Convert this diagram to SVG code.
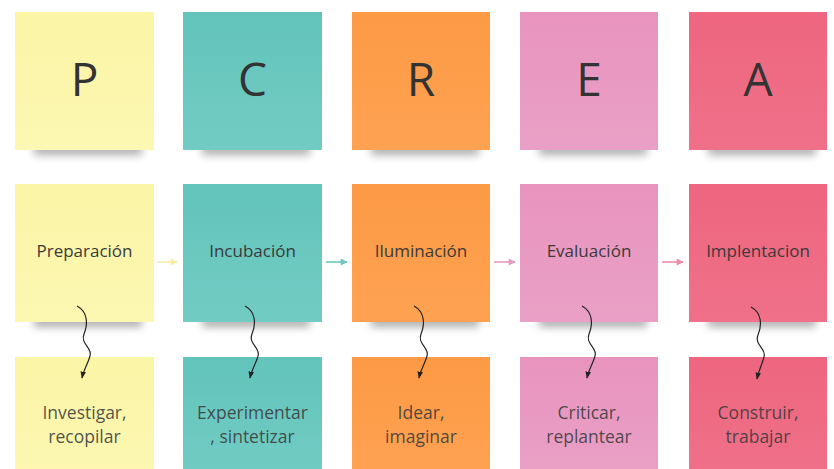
<svg xmlns="http://www.w3.org/2000/svg" width="834" height="469" viewBox="0 0 834 469">
<style>
.letter{font-family:"Open Sans","Liberation Sans",sans-serif;font-size:46px;fill:#333;text-anchor:middle}
.lbl{font-family:"Open Sans","Liberation Sans",sans-serif;font-size:17px;fill:#3a3a3a;text-anchor:middle}
.sub{font-family:"Open Sans","Liberation Sans",sans-serif;font-size:17.5px;fill:#3a3a3a;fill-opacity:.88;text-anchor:middle}
.shadow{fill:#000;opacity:.32;filter:url(#blur)}
.squig{fill:none;stroke:#222;stroke-width:1.2;marker-end:url(#ah)}
.ha{stroke-width:1.6;fill:none}
</style>
<defs>
<filter id="blur" x="-20%" y="-100%" width="140%" height="300%"><feGaussianBlur stdDeviation="4"/></filter>
<linearGradient id="gy" x1="0" y1="0" x2="0" y2="1"><stop offset="0" stop-color="#fbf5a6"/><stop offset="1" stop-color="#fcf7b2"/></linearGradient>
<linearGradient id="gt" x1="0" y1="0" x2="0" y2="1"><stop offset="0" stop-color="#62c4bb"/><stop offset="1" stop-color="#72ccc4"/></linearGradient>
<linearGradient id="go" x1="0" y1="0" x2="0" y2="1"><stop offset="0" stop-color="#fd9a45"/><stop offset="1" stop-color="#fea252"/></linearGradient>
<linearGradient id="gp" x1="0" y1="0" x2="0" y2="1"><stop offset="0" stop-color="#e894be"/><stop offset="1" stop-color="#eaa0c6"/></linearGradient>
<linearGradient id="gr" x1="0" y1="0" x2="0" y2="1"><stop offset="0" stop-color="#ee667f"/><stop offset="1" stop-color="#f07089"/></linearGradient>
<marker id="ah" viewBox="0 0 10 10" refX="9" refY="5" markerWidth="7" markerHeight="9" orient="auto" markerUnits="userSpaceOnUse"><path d="M0,1 L10,5 L0,9 Z" fill="#222"/></marker>
<marker id="ahy" viewBox="0 0 10 10" refX="9" refY="5" markerWidth="9" markerHeight="7" orient="auto" markerUnits="userSpaceOnUse"><path d="M0,0 L10,5 L0,10 Z" fill="#f5eea0"/></marker>
<marker id="aht" viewBox="0 0 10 10" refX="9" refY="5" markerWidth="9" markerHeight="7" orient="auto" markerUnits="userSpaceOnUse"><path d="M0,0 L10,5 L0,10 Z" fill="#6cc8c0"/></marker>
<marker id="ahp" viewBox="0 0 10 10" refX="9" refY="5" markerWidth="9" markerHeight="7" orient="auto" markerUnits="userSpaceOnUse"><path d="M0,0 L10,5 L0,10 Z" fill="#e99ac2"/></marker>
<marker id="ahr" viewBox="0 0 10 10" refX="9" refY="5" markerWidth="9" markerHeight="7" orient="auto" markerUnits="userSpaceOnUse"><path d="M0,0 L10,5 L0,10 Z" fill="#ee8ba6"/></marker>
</defs>
<rect width="834" height="469" fill="#fff"/>
<g id="shadows">
<rect class="shadow" x="34" y="144" width="108" height="11"/>
<rect class="shadow" x="202" y="144" width="108" height="11"/>
<rect class="shadow" x="371" y="144" width="108" height="11"/>
<rect class="shadow" x="539" y="144" width="108" height="11"/>
<rect class="shadow" x="708" y="144" width="108" height="11"/>
<rect class="shadow" x="34" y="316" width="108" height="11"/>
<rect class="shadow" x="202" y="316" width="108" height="11"/>
<rect class="shadow" x="371" y="316" width="108" height="11"/>
<rect class="shadow" x="539" y="316" width="108" height="11"/>
<rect class="shadow" x="708" y="316" width="108" height="11"/>
</g>
<g id="top-P"><rect x="15" y="12" width="139" height="138" fill="url(#gy)"/><text class="letter" x="84.5" y="96">P</text></g>
<g id="top-C"><rect x="183" y="12" width="139" height="138" fill="url(#gt)"/><text class="letter" x="252.5" y="96">C</text></g>
<g id="top-R"><rect x="352" y="12" width="138" height="138" fill="url(#go)"/><text class="letter" x="421" y="96">R</text></g>
<g id="top-E"><rect x="520" y="12" width="138" height="138" fill="url(#gp)"/><text class="letter" x="589" y="96">E</text></g>
<g id="top-A"><rect x="689" y="12" width="138" height="138" fill="url(#gr)"/><text class="letter" x="758" y="96">A</text></g>

<g id="mid-preparacion"><rect x="15" y="184" width="139" height="138" fill="url(#gy)"/><text class="lbl" x="84.5" y="257">Preparación</text></g>
<g id="mid-incubacion"><rect x="183" y="184" width="139" height="138" fill="url(#gt)"/><text class="lbl" x="252.5" y="257">Incubación</text></g>
<g id="mid-iluminacion"><rect x="352" y="184" width="138" height="138" fill="url(#go)"/><text class="lbl" x="421" y="257">Iluminación</text></g>
<g id="mid-evaluacion"><rect x="520" y="184" width="138" height="138" fill="url(#gp)"/><text class="lbl" x="589" y="257">Evaluación</text></g>
<g id="mid-implentacion"><rect x="689" y="184" width="138" height="138" fill="url(#gr)"/><text class="lbl" x="758" y="257">Implentacion</text></g>

<g id="bot-investigar"><rect x="15" y="357" width="139" height="120" fill="url(#gy)"/><text class="sub" x="84.5" y="419">Investigar,</text><text class="sub" x="84.5" y="443">recopilar</text></g>
<g id="bot-experimentar"><rect x="183" y="357" width="139" height="120" fill="url(#gt)"/><text class="sub" x="252.5" y="419">Experimentar</text><text class="sub" x="252.5" y="443">, sintetizar</text></g>
<g id="bot-idear"><rect x="352" y="357" width="138" height="120" fill="url(#go)"/><text class="sub" x="421" y="419">Idear,</text><text class="sub" x="421" y="443">imaginar</text></g>
<g id="bot-criticar"><rect x="520" y="357" width="138" height="120" fill="url(#gp)"/><text class="sub" x="589" y="419">Criticar,</text><text class="sub" x="589" y="443">replantear</text></g>
<g id="bot-construir"><rect x="689" y="357" width="138" height="120" fill="url(#gr)"/><text class="sub" x="758" y="419">Construir,</text><text class="sub" x="758" y="443">trabajar</text></g>

<g id="connectors">
<path class="ha" d="M157,262 L177,262" stroke="#f5eea0" marker-end="url(#ahy)"/>
<path class="ha" d="M326,262 L347,262" stroke="#6cc8c0" marker-end="url(#aht)"/>
<path class="ha" d="M494,262 L515,262" stroke="#e99ac2" marker-end="url(#ahp)"/>
<path class="ha" d="M662,262 L683,262" stroke="#ee8ba6" marker-end="url(#ahr)"/>
<path class="squig" d="M77,306 C88,312 88,324 84,334 C80,344 93,348 90,356 C88,364 84,368 82,378"/>
<path class="squig" d="M245,306 C256,312 256,324 252,334 C248,344 261,348 258,356 C256,364 252,368 250,378"/>
<path class="squig" d="M414,306 C425,312 425,324 421,334 C417,344 430,348 427,356 C425,364 421,368 419,378"/>
<path class="squig" d="M582,306 C593,312 593,324 589,334 C585,344 598,348 595,356 C593,364 589,368 587,378"/>
<path class="squig" d="M751,307 C762,313 762,325 758,335 C754,345 767,349 764,357 C762,365 759,369 757,379"/>
</g>
</svg>
